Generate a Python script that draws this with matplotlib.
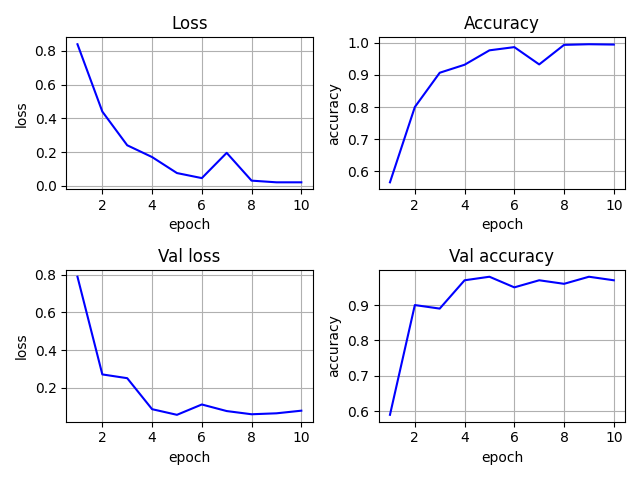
import matplotlib
matplotlib.use("Agg")
import matplotlib.pyplot as plt

epochs = [1, 2, 3, 4, 5, 6, 7, 8, 9, 10]
loss = [0.84, 0.44, 0.24, 0.17, 0.075, 0.045, 0.195, 0.03, 0.02, 0.02]
accuracy = [0.565, 0.80, 0.907, 0.932, 0.977, 0.987, 0.933, 0.994, 0.996, 0.995]
val_loss = [0.79, 0.27, 0.25, 0.085, 0.055, 0.11, 0.075, 0.058, 0.063, 0.077]
val_accuracy = [0.59, 0.90, 0.89, 0.97, 0.98, 0.95, 0.97, 0.96, 0.98, 0.97]

fig, axes = plt.subplots(2, 2, figsize=(6.4, 4.8))
panels = [
    (axes[0, 0], loss, "Loss", "loss"),
    (axes[0, 1], accuracy, "Accuracy", "accuracy"),
    (axes[1, 0], val_loss, "Val loss", "loss"),
    (axes[1, 1], val_accuracy, "Val accuracy", "accuracy"),
]
for ax, vals, title, ylabel in panels:
    ax.plot(epochs, vals, color="blue")
    ax.set_title(title)
    ax.set_xlabel("epoch")
    ax.set_ylabel(ylabel)
    ax.grid(True)

plt.tight_layout()
plt.savefig("out.png")
